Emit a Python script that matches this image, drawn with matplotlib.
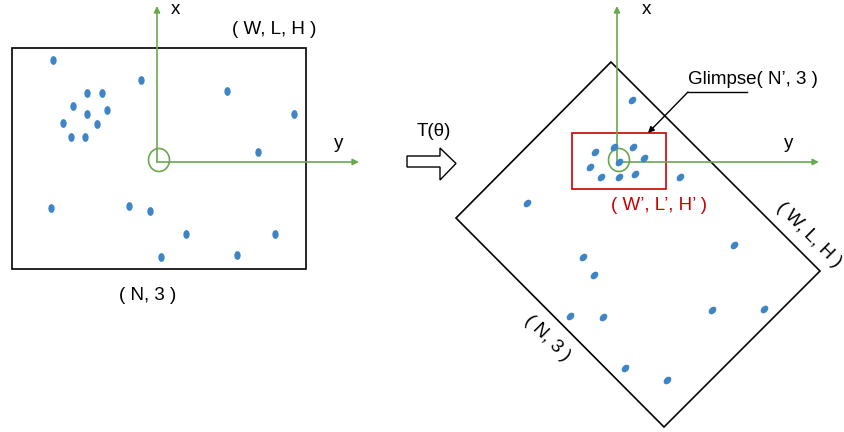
import matplotlib
matplotlib.use("Agg")
import matplotlib.pyplot as plt
from matplotlib.patches import Polygon, Rectangle, Ellipse
from matplotlib.markers import MarkerStyle
from matplotlib.transforms import Affine2D

plt.rcParams['font.family'] = ['Liberation Sans', 'DejaVu Sans']

# point cloud (left, original frame) in pixel-like coordinates
left_x = [53, 141, 227, 294, 258, 87, 102, 73, 87, 107, 63, 97, 71, 85,
          51, 129, 150, 186, 275, 161, 237]
left_y = [60, 80, 91, 114, 152, 93, 93, 106, 114, 110, 123, 124, 137, 137,
          208, 206, 211, 234, 234, 257, 255]

# point cloud (right, transformed frame)
right_x = [632, 595, 614, 633, 644, 590, 619, 601, 619, 635, 680,
           527, 734, 583, 594, 570, 603, 712, 764, 625, 667]
right_y = [100, 152, 147, 147, 158, 167, 162, 177, 177, 174, 177,
           203, 245, 257, 275, 316, 317, 310, 309, 368, 380]

# outlines
left_box = [(12, 48), (306, 48), (306, 269), (12, 269)]
diamond = [(611, 62), (820, 271), (664, 427), (456, 218)]
glimpse_box = (572, 133, 94, 56)

DOT = '#3d85c6'
GREEN = '#6aa84f'
RED = '#cc0000'

fig = plt.figure(figsize=(8.44, 4.32), dpi=100)
ax = fig.add_axes([0, 0, 1, 1])
ax.set_xlim(0, 844)
ax.set_ylim(432, 0)
ax.axis('off')

ax.add_patch(Polygon(left_box, closed=True, fill=False, ec='black', lw=1.2))
ax.add_patch(Polygon(diamond, closed=True, fill=False, ec='black', lw=1.2))
ax.add_patch(Rectangle(glimpse_box[:2], glimpse_box[2], glimpse_box[3],
                       fill=False, ec=RED, lw=1.2))

# green axes
def green_axes(ox, oy, xtop, yright, cx, cy):
    ax.annotate('', xy=(ox, xtop), xytext=(ox, oy),
                arrowprops=dict(arrowstyle='-|>', color=GREEN, lw=1.2,
                                mutation_scale=9, shrinkA=0, shrinkB=0))
    ax.annotate('', xy=(yright, oy), xytext=(ox, oy),
                arrowprops=dict(arrowstyle='-|>', color=GREEN, lw=1.2,
                                mutation_scale=9, shrinkA=0, shrinkB=0))
    ax.add_patch(Ellipse((cx, cy), 21, 23, fill=False, ec=GREEN, lw=1.2))

green_axes(157, 162, 6, 359, 159, 160)
green_axes(617, 162, 6, 819, 619, 160)

# dots
m_left = MarkerStyle('o', transform=Affine2D().scale(0.72, 1.0))
m_right = MarkerStyle('o', transform=Affine2D().scale(0.72, 1.0).rotate_deg(-45))
ax.scatter(left_x, left_y, s=40, marker=m_left, color=DOT, lw=0, zorder=3)
ax.scatter(right_x, right_y, s=40, marker=m_right, color=DOT, lw=0, zorder=3)

fs = 13.5
ax.text(175, 10, 'x', fontsize=fs, ha='center', va='center')
ax.text(339, 143, 'y', fontsize=fs, ha='center', va='center')
ax.text(274, 29, '( W, L, H )', fontsize=fs, ha='center', va='center')
ax.text(148, 295, '( N, 3 )', fontsize=fs, ha='center', va='center')

ax.text(646, 9, 'x', fontsize=fs, ha='center', va='center')
ax.text(789, 143, 'y', fontsize=fs, ha='center', va='center')
ax.text(659, 206, '( W\u2019, L\u2019, H\u2019 )', fontsize=fs,
        ha='center', va='center', color=RED)
ax.text(753, 79, 'Glimpse( N\u2019, 3 )', fontsize=fs, ha='center', va='center')
ax.text(809, 235, '( W, L, H )', fontsize=fs, ha='center', va='center',
        rotation=-45, rotation_mode='anchor')
ax.text(547, 338, '( N, 3 )', fontsize=fs, ha='center', va='center',
        rotation=-45, rotation_mode='anchor')

# glimpse pointer
ax.plot([747, 688], [92, 92], color='black', lw=1.0)
ax.annotate('', xy=(648, 133), xytext=(688, 92),
            arrowprops=dict(arrowstyle='-|>', color='black', lw=1.0,
                            mutation_scale=9, shrinkA=0, shrinkB=0))

# hollow transform arrow
arrow_pts = [(407, 156), (440, 156), (440, 148), (456, 163.5), (440, 180),
             (440, 167), (407, 167)]
ax.add_patch(Polygon(arrow_pts, closed=True, fill=False, ec='black', lw=1.0))
ax.text(434, 132, 'T(\u03b8)', fontsize=fs, ha='center', va='center')

fig.savefig('out.png', dpi=100)
